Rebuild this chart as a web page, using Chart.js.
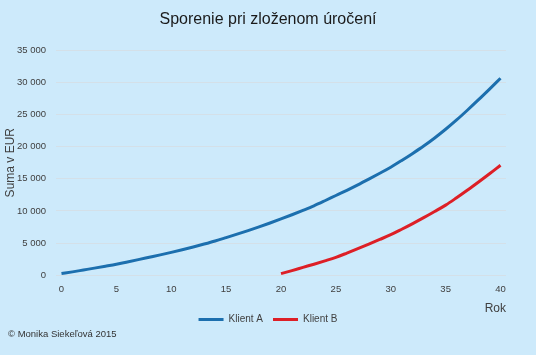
<!DOCTYPE html>
<html>
<head>
<meta charset="utf-8">
<script src="https://cdn.jsdelivr.net/npm/chart.js@4/dist/chart.umd.min.js"></script>
<style>
  html, body { margin: 0; padding: 0; background: #cdeafb; }
  #wrap { width: 536px; height: 355px; position: relative; }
</style>
</head>
<body>
<div id="wrap"><canvas id="c" width="536" height="355"></canvas></div>
<script>
const years = [];
for (let y = 0; y <= 40; y++) years.push(String(y));

const klientA = [250, 520, 810, 1100, 1400, 1710, 2060, 2420, 2790, 3160,
  3550, 3960, 4390, 4850, 5330, 5850, 6380, 6930, 7510, 8120,
  8750, 9400, 10080, 10790, 11580, 12400, 13210, 14060, 14950, 15860,
  16800, 17850, 18950, 20100, 21350, 22700, 24150, 25700, 27300, 28950,
  30630];

const klientB = [null, null, null, null, null, null, null, null, null, null,
  null, null, null, null, null, null, null, null, null, null,
  250, 720, 1220, 1710, 2230, 2780, 3440, 4130, 4840, 5560,
  6300, 7150, 8030, 8950, 9910, 10900, 12050, 13250, 14500, 15780,
  17110];

const yTicks = [0, 5000, 10000, 15000, 20000, 25000, 30000, 35000];

const titleText = 'Sporenie pri zloženom úročení';
const yTitle = 'Suma v EUR';
const xTitle = 'Rok';
const footer = '© Monika Siekeľová 2015';
const seriesNames = ['Klient A', 'Klient B'];
const colors = ['#1c6fae', '#dd1f26'];

const fmt = v => String(v).replace(/\B(?=(\d{3})+(?!\d))/g, ' ');
const FONT = "'Liberation Sans', Arial, sans-serif";

Chart.defaults.font.family = FONT;
Chart.defaults.color = '#404040';

new Chart(document.getElementById('c'), {
  type: 'line',
  data: {
    labels: years,
    datasets: [
      { label: seriesNames[0], data: klientA, borderColor: colors[0], backgroundColor: colors[0],
        borderWidth: 3, pointRadius: 0, cubicInterpolationMode: 'monotone', spanGaps: false },
      { label: seriesNames[1], data: klientB, borderColor: colors[1], backgroundColor: colors[1],
        borderWidth: 3, pointRadius: 0, cubicInterpolationMode: 'monotone', spanGaps: false }
    ]
  },
  options: {
    responsive: false,
    animation: false,
    layout: { padding: { left: 8, right: 8, top: 0, bottom: 11 } },
    plugins: {
      title: {
        display: true, text: titleText, color: '#1a1a1a',
        font: { size: 16, weight: 'normal' }, padding: { top: 10, bottom: 21 }
      },
      subtitle: {
        display: true, text: footer, position: 'bottom', align: 'start',
        color: '#333333', font: { size: 9.5 }, padding: { top: -6, bottom: 4 }
      },
      legend: {
        position: 'bottom',
        labels: {
          boxWidth: 25, boxHeight: 3, padding: 10, color: '#404040', font: { size: 10 },
          generateLabels: chart => chart.data.datasets.map((ds, i) => ({
            text: ds.label, fillStyle: ds.borderColor, strokeStyle: ds.borderColor,
            lineWidth: 0, hidden: false, datasetIndex: i, fontColor: '#404040'
          }))
        }
      },
      tooltip: { enabled: false }
    },
    scales: {
      x: {
        type: 'category',
        offset: true,
        grid: { display: false, drawTicks: false },
        border: { display: false },
        ticks: {
          autoSkip: false, maxRotation: 0, padding: 8, color: '#404040', font: { size: 9.5 },
          callback: function(val, idx) { return idx % 5 === 0 ? this.getLabelForValue(val) : ''; }
        },
        title: {
          display: true, text: xTitle, align: 'end', color: '#404040',
          font: { size: 12, lineHeight: 1 }, padding: { top: 0, bottom: -10 }
        }
      },
      y: {
        min: 0, max: 35000,
        afterBuildTicks: s => { s.ticks = yTicks.map(v => ({ value: v })); },
        afterFit: s => { s.width = 48; },
        grid: { color: '#d4e0e8', lineWidth: 1, drawTicks: false },
        border: { display: false },
        ticks: { padding: 10, color: '#404040', font: { size: 9.5 }, callback: v => fmt(v) },
        title: {
          display: true, text: yTitle, color: '#404040',
          font: { size: 12 }, padding: { top: -5, bottom: 0 }
        }
      },
      yRight: {
        position: 'right',
        min: 0, max: 35000,
        afterFit: s => { s.width = 22; },
        grid: { display: false, drawTicks: false },
        border: { display: false },
        ticks: { display: false }
      }
    }
  },
  plugins: [{
    id: 'bg',
    beforeDraw: c => { const x = c.ctx; x.save(); x.fillStyle = '#cdeafb'; x.fillRect(0, 0, c.width, c.height); x.restore(); }
  }]
});
</script>
</body>
</html>
